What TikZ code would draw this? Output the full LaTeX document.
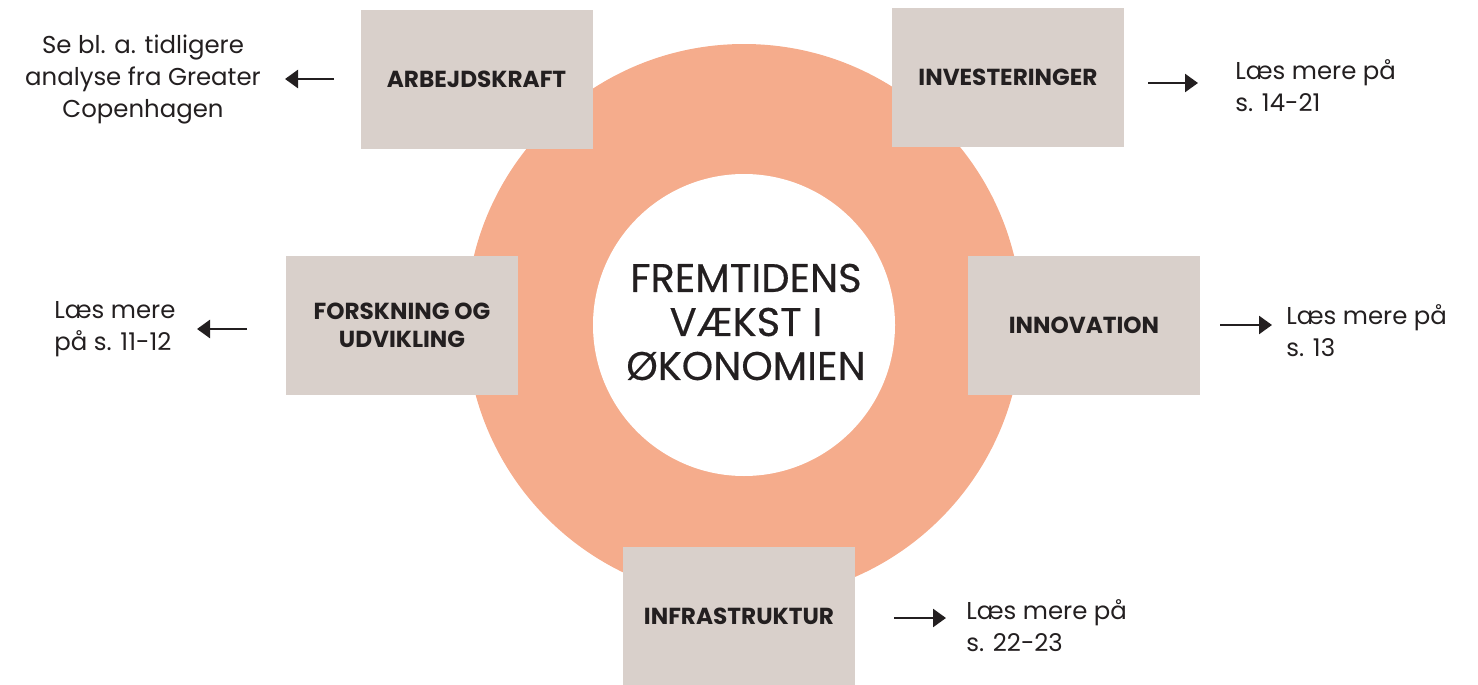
\documentclass[tikz,border=0pt]{standalone}
\usepackage{fontspec}
\setmainfont{Poppins}
\usepackage{tikz}
\usetikzlibrary{
  arrows.meta
}
\definecolor{ringcol}{HTML}{F5AC8C}
\definecolor{boxcol}{HTML}{D9D0CB}
\definecolor{inkcol}{HTML}{231F20}

\begin{document}
\begin{tikzpicture}[
  x=0.5pt, y=-0.5pt,
  topic/.style={
    rectangle,
    fill=boxcol,
    minimum width=116pt,
    minimum height=69.5pt,
    inner sep=0pt,
    align=center,
    text=inkcol,
    font=\fontsize{11.6}{14}\selectfont\bfseries
  },
  note/.style={
    inner sep=0pt,
    text=inkcol,
    font=\fontsize{12.2}{16}\selectfont
  },
  pointer/.style={
    draw=inkcol,
    line width=1.3pt,
    -{Triangle[length=6.5pt,width=9pt]}
  }
]
  \useasboundingbox (0,0) rectangle (1478,685);

  % ring
  \fill[ringcol] (744,322) circle[radius=139pt];
  \fill[white] (744,325) circle[radius=75.5pt];
  \node[align=center,text=inkcol,
        font=\fontsize{20}{22}\selectfont\addfontfeature{FakeBold=0.4}]
    (core) at (746,322) {FREMTIDENS\\VÆKST I\\ØKONOMIEN};

  % boxes
  \node[topic] (arb) at (476.5,79.5) {ARBEJDSKRAFT};
  \node[topic] (inv) at (1008,77.5) {INVESTERINGER};
  \node[topic] (fou) at (402,325.5) {FORSKNING OG\\UDVIKLING};
  \node[topic] (inn) at (1084,325.5) {INNOVATION};
  \node[topic] (infra) at (739,616) {INFRASTRUKTUR};

  % notes
  \node[note,align=center] (arbTxt) at (143,80)
    {Se bl. a. tidligere\\analyse fra Greater\\Copenhagen};
  \node[note,align=left,anchor=west] (invTxt) at (1235,86)
    {Læs mere på\\s. 14-21};
  \node[note,align=left,anchor=west] (fouTxt) at (54,329)
    {Læs mere\\på s. 11-12};
  \node[note,align=left,anchor=west] (innTxt) at (1286,331)
    {Læs mere på\\s. 13};
  \node[note,align=left,anchor=west] (infraTxt) at (966,626)
    {Læs mere på\\s. 22-23};

  % arrow ends
  \coordinate (arbA) at (334,79);
  \coordinate (arbB) at (285,79);
  \coordinate (invA) at (1148,83);
  \coordinate (invB) at (1198,83);
  \coordinate (fouA) at (247,329);
  \coordinate (fouB) at (197,329);
  \coordinate (innA) at (1220,325);
  \coordinate (innB) at (1272,325);
  \coordinate (infraA) at (894,618);
  \coordinate (infraB) at (946,618);

  \draw[pointer] (arbA) -- (arbB);
  \draw[pointer] (invA) -- (invB);
  \draw[pointer] (fouA) -- (fouB);
  \draw[pointer] (innA) -- (innB);
  \draw[pointer] (infraA) -- (infraB);
\end{tikzpicture}
\end{document}
